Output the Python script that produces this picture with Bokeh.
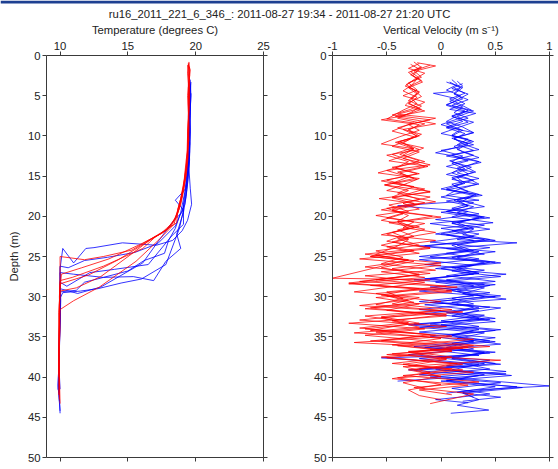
from bokeh.plotting import figure
from bokeh.layouts import column, row
from bokeh.models import Range1d, LinearAxis, FixedTicker, ColumnDataSource, Label, BoxAnnotation
from bokeh.embed import file_html
from bokeh.resources import INLINE

FONT = "Liberation Sans"
FONT_SIZE = "11.3px"
TITLE = "ru16_2011_221_6_346_: 2011-08-27 19:34 - 2011-08-27 21:20 UTC"

TEMP_TICKS = [10, 15, 20, 25]
VEL_TICKS = [-1, -0.5, 0, 0.5, 1]
VEL_TICK_LABELS = ["-1", "-0.5", "0", "0.5", "1"]
DEPTH_TICKS = [0, 5, 10, 15, 20, 25, 30, 35, 40, 45, 50]

# ---- temperature profiles: (temperature degC, depth m) ----
# red casts
RT1 = [(19.45,1.0),(19.6,1.8),(19.5,3.5),(19.45,6),(19.5,9),(19.4,12),(19.3,14.5),(19.15,16.5),(18.9,18.5),(18.6,20.0),(18.2,21.2),(17.6,22.0),(16.6,22.9),(15.3,24.2),(13.2,25.0),(11.8,25.4),(10.0,25.0),(10.0,27.5),(9.95,31),(9.95,35),(9.9,38.5),(9.95,41.0)]
RT2 = [(19.5,0.8),(19.55,2.5),(19.4,5),(19.5,8),(19.45,11),(19.35,13.5),(19.2,15.5),(19.0,17.5),(18.7,19.5),(18.3,20.8),(17.4,22.2),(15.9,23.5),(13.6,25.3),(11.6,26.4),(10.1,27.2),(10.0,29),(9.95,33),(9.9,37),(9.95,40),(10.0,43.3)]
RT3 = [(19.4,1.2),(19.5,3),(19.55,5.5),(19.45,8.5),(19.4,12),(19.3,14),(19.1,16.2),(18.85,18.2),(18.5,20.2),(17.8,21.8),(16.4,23.2),(14.3,25.4),(12.1,27.3),(10.0,28.4),(9.95,31),(9.9,35),(9.95,39),(9.9,42.2)]
RT4 = [(19.55,1.4),(19.45,4),(19.5,7),(19.4,10),(19.35,13),(19.2,15),(19.05,17),(18.8,19),(18.4,20.5),(18.0,21.5),(16.9,22.6),(15.1,24.9),(13.0,27.5),(11.2,28.9),(10.0,29.3),(9.9,32),(9.95,36),(9.9,40.0)]
RT5 = [(19.5,0.9),(19.4,2.2),(19.5,4.5),(19.45,7.5),(19.5,10.5),(19.3,13),(19.15,15.5),(18.9,17.8),(18.6,19.8),(18.4,21.0),(17.3,22.9),(15.6,25.6),(12.9,28.8),(11.0,30.5),(10.0,31.6),(9.95,34),(9.9,37),(9.95,39.5)]
RT6 = [(19.45,1.1),(19.55,3.2),(19.5,6.5),(19.4,9.5),(19.45,12.5),(19.3,15),(19.0,17.2),(18.7,19.0),(18.6,20.8),(17.0,22.6),(16.1,24.0),(13.2,26.2),(10.9,27.6),(10.0,28.0),(9.95,30),(10.0,34),(9.9,38),(9.95,42.8)]
# blue casts
BT1 = [(19.6,3.0),(19.65,5),(19.55,8),(19.6,11),(19.5,14),(19.6,16.5),(19.7,18.5),(19.4,20.5),(19.0,21.8),(18.3,23.0),(17.1,23.6),(14.6,23.3),(12.5,23.9),(11.9,24.0),(11.0,25.8),(10.2,24.0),(10.0,26.5),(10.0,30.2),(9.95,35),(9.9,40),(9.95,42.0)]
BT2 = [(19.55,3.2),(19.6,6),(19.5,9),(19.55,12),(19.45,15),(19.3,17.5),(19.1,19.5),(18.6,22.2),(18.9,24.0),(17.8,25.6),(16.9,28.0),(15.4,27.5),(13.2,27.6),(11.0,27.2),(10.0,27.0),(10.05,30.5),(9.95,36),(9.85,41.5),(9.95,42.0)]
BT3 = [(19.65,4.7),(19.6,7),(19.5,10),(19.55,13),(19.4,16),(19.2,18.5),(18.5,21.2),(17.2,23.4),(15.5,24.5),(13.5,25.1),(11.8,25.5),(10.6,26.4),(10.0,26.2),(10.0,30),(9.95,35),(9.9,40),(10.0,44.5)]
BT4 = [(19.6,3.5),(19.5,6.5),(19.6,9.5),(19.5,12.5),(19.35,15.5),(19.1,18.5),(19.1,21.0),(18.2,22.5),(16.5,26.0),(14.0,26.6),(12.2,27.0),(10.5,28.7),(10.0,28.2),(10.0,32),(9.95,37),(9.9,41),(9.95,43.0)]
BT5 = [(19.55,4.0),(19.6,7.5),(19.55,10.5),(19.45,13.5),(19.3,16.5),(18.5,18.0),(19.1,19.2),(18.8,21.5),(17.8,26.0),(16.0,27.8),(14.5,28.3),(12.8,29.0),(11.5,29.3),(10.2,29.5),(10.0,30.2),(9.95,34),(9.9,38),(9.95,40.5)]
BT6 = [(19.65,3.3),(19.55,6),(19.6,9),(19.5,12),(19.4,15),(19.25,17.5),(19.0,19.5),(18.4,20.5),(17.2,23.2),(16.1,25.8),(13.0,28.8),(11.3,29.6),(10.0,29.0),(10.0,32.5),(9.95,37),(9.85,41.0),(10.0,44.2)]
BT7 = [(19.6,3.8),(19.5,7),(19.55,11),(19.4,14),(19.2,17),(18.9,19.5),(18.5,21.5),(18.0,23.0),(17.7,24.6),(16.2,25.5),(15.0,26.8),(13.2,27.6),(11.8,28.2),(11.2,29.2),(10.0,29.4),(10.0,33),(9.9,38),(10.0,41.5)]

# ---- vertical velocity profiles: (velocity m/s, depth m) ----
RV1 = [(-0.22,0.9),(-0.05,1.3),(-0.2,1.8),(-0.28,2.4),(-0.18,3.1),(-0.3,3.9),(-0.2,4.6),(-0.27,5.4),(-0.33,6.2),(-0.15,6.9),(-0.42,7.6),(-0.2,8.1),(-0.05,8.5),(-0.35,9.2),(-0.22,10.0),(-0.4,10.8),(-0.16,11.5),(-0.3,12.3),(-0.48,13.1),(-0.12,13.8),(-0.38,14.6),(-0.22,15.4),(-0.52,16.1),(-0.1,16.9),(-0.45,17.7),(-0.25,18.4),(-0.55,19.2),(-0.08,20.0),(-0.4,20.7),(-0.3,21.5),(-0.55,22.3),(-0.05,23.0),(-0.5,23.8),(-0.2,24.6),(-0.75,25.3),(0.0,26.1),(-0.55,26.9),(-0.15,27.6),(-0.85,28.4),(0.1,29.2),(-0.5,29.9),(-0.25,30.7),(-0.7,31.5),(0.05,32.2),(-0.45,33.0),(-0.2,33.8),(-0.8,34.5),(0.3,35.3),(-0.4,36.1),(0.1,36.8),(-0.5,37.6),(0.2,38.4),(-0.3,39.1),(0.0,39.9),(-0.35,40.7),(-0.15,41.4)]
RV2 = [(-0.1,1.2),(-0.25,1.9),(-0.18,2.7),(-0.3,3.4),(-0.22,4.3),(-0.35,5.0),(-0.15,5.8),(-0.28,6.7),(-0.45,7.4),(-0.1,8.0),(-0.3,8.6),(-0.2,9.3),(-0.38,10.1),(-0.55,11.0),(-0.25,11.6),(-0.35,12.4),(-0.15,13.2),(-0.45,13.9),(-0.22,14.7),(-0.5,15.5),(-0.3,16.2),(-0.1,17.0),(-0.57,17.8),(-0.2,18.5),(-0.45,19.3),(0.0,20.1),(-0.48,20.8),(-0.15,21.6),(-0.35,22.4),(-0.5,23.1),(-0.1,23.9),(-0.7,24.7),(-0.3,25.4),(-1.0,27.7),(-0.1,27.9),(-0.65,28.6),(0.1,29.4),(-0.6,30.1),(-0.2,30.9),(-0.5,31.7),(0.05,32.4),(-0.85,33.3),(-0.15,34.0),(-0.7,34.8),(0.45,36.2),(-0.3,36.8),(0.1,37.5),(-0.45,38.3),(0.2,39.1),(-0.35,39.8),(0.35,40.6),(-0.25,41.3),(0.3,42.1),(-0.1,43.3)]
RV3 = [(-0.2,1.0),(-0.3,1.6),(-0.15,2.2),(-0.25,3.0),(-0.33,3.8),(-0.2,4.5),(-0.28,5.3),(-0.22,6.0),(-0.35,6.8),(-0.5,7.9),(-0.25,8.4),(-0.4,9.0),(-0.18,9.8),(-0.3,10.5),(-0.45,11.3),(-0.2,12.0),(-0.35,12.8),(-0.1,13.6),(-0.5,14.3),(-0.3,15.1),(-0.45,15.9),(-0.15,16.6),(-0.35,17.4),(-0.05,18.2),(-0.5,19.0),(-0.35,19.7),(-0.55,20.5),(-0.2,21.3),(-0.45,22.0),(-0.3,22.8),(-0.55,23.6),(-0.25,24.3),(-0.65,25.0),(0.0,25.8),(-0.45,26.5),(-0.2,27.3),(-0.75,28.1),(0.15,28.8),(-0.6,29.6),(-0.3,30.4),(-0.75,31.1),(0.2,31.9),(-0.55,32.6),(-0.3,33.4),(-0.65,34.2),(0.1,34.9),(-0.8,35.7),(0.2,36.4),(-0.5,37.2),(0.55,37.9),(-0.35,38.7),(-0.1,39.4),(-0.45,40.2),(0.25,41.0),(-0.2,41.6),(0.1,42.2)]
RV4 = [(-0.18,1.4),(-0.28,2.0),(-0.2,2.8),(-0.32,3.6),(-0.25,4.3),(-0.18,5.1),(-0.3,5.9),(-0.2,6.6),(-0.4,7.3),(-0.05,7.8),(-0.3,8.6),(-0.45,9.4),(-0.25,10.1),(-0.35,10.9),(-0.2,11.7),(-0.5,12.4),(-0.3,13.2),(-0.42,14.0),(-0.2,14.7),(-0.55,15.6),(-0.25,16.3),(-0.4,17.1),(-0.2,17.9),(-0.48,18.6),(-0.3,19.4),(-0.5,20.2),(-0.15,20.9),(-0.4,21.7),(-0.25,22.5),(-0.45,23.2),(-0.1,24.0),(-0.6,24.8),(-0.3,25.5),(-0.7,26.3),(-0.1,27.1),(-0.85,28.3),(-0.2,29.0),(-0.55,29.8),(0.0,30.6),(-0.65,31.4),(-0.15,32.1),(-0.75,32.9),(0.05,33.7),(-0.6,34.4),(0.0,35.2),(-0.45,36.0),(0.1,36.7),(-0.55,37.5),(0.15,38.3),(-0.25,39.1),(0.0,40.0)]
RV5 = [(-0.25,0.8),(-0.18,1.5),(-0.3,2.1),(-0.22,2.9),(-0.27,3.7),(-0.35,4.4),(-0.22,5.2),(-0.3,6.0),(-0.18,6.7),(-0.35,7.5),(-0.55,8.0),(-0.2,8.6),(-0.3,9.3),(-0.22,10.1),(-0.42,10.8),(-0.25,11.6),(-0.38,12.3),(-0.2,13.1),(-0.4,13.9),(-0.58,14.6),(-0.2,15.3),(-0.35,16.1),(-0.5,16.8),(-0.1,17.6),(-0.35,18.4),(-0.2,19.1),(-0.6,19.9),(-0.25,20.7),(-0.35,21.4),(-0.05,22.0),(-0.4,22.8),(-0.2,23.6),(-0.6,24.3),(-0.35,25.1),(-0.55,25.9),(-0.05,26.7),(-0.7,27.4),(-0.15,28.2),(-0.8,29.4),(-0.2,30.1),(-0.45,30.9),(0.1,31.6),(-0.7,32.4),(-0.3,33.2),(-0.75,33.9),(-0.1,34.7),(-0.55,35.5),(0.3,36.1),(-0.3,36.9),(0.05,37.7),(-0.35,38.4),(0.1,39.0),(-0.15,39.5)]
RV6 = [(-0.28,1.1),(-0.2,1.7),(-0.26,2.5),(-0.17,3.3),(-0.3,4.0),(-0.22,4.8),(-0.3,5.6),(-0.18,6.3),(-0.28,7.1),(-0.4,7.8),(-0.15,8.5),(-0.3,9.2),(-0.2,10.0),(-0.38,10.7),(-0.26,11.5),(-0.45,12.3),(-0.3,13.0),(-0.15,13.8),(-0.4,14.5),(-0.25,15.3),(-0.52,16.1),(-0.3,16.8),(-0.45,17.6),(-0.15,18.3),(-0.45,19.1),(-0.3,19.9),(-0.4,20.6),(-0.25,21.4),(-0.5,22.2),(-0.3,22.9),(-0.4,23.7),(-0.65,25.0),(-0.25,25.6),(-0.55,26.4),(-0.2,27.2),(-0.6,27.9),(0.05,28.7),(-0.5,29.4),(-0.35,30.2),(-0.6,31.0),(0.0,31.7),(-0.55,32.5),(-0.2,33.3),(-0.7,34.0),(-0.05,34.8),(-0.65,35.5),(0.25,36.3),(-0.45,37.1),(0.05,37.8),(-0.3,38.6),(0.3,39.4),(-0.4,40.1),(0.0,40.9),(-0.3,41.6),(-0.2,42.3),(0.0,42.8)]
BV1 = [(0.1,3.0),(0.15,3.6),(0.05,4.3),(0.18,5.0),(0.08,5.7),(0.2,6.4),(0.12,7.1),(0.25,7.8),(0.05,8.5),(0.18,9.2),(0.1,9.9),(0.28,10.6),(0.12,11.3),(0.2,12.0),(0.35,12.7),(0.1,13.4),(0.22,14.1),(0.05,14.8),(0.3,15.5),(0.12,16.2),(0.25,16.9),(0.0,17.6),(0.3,18.3),(0.1,19.0),(0.35,19.7),(-0.05,20.4),(0.4,21.1),(0.1,21.8),(0.3,22.5),(-0.1,23.2),(0.45,23.9),(0.05,24.6),(0.35,25.3),(-0.15,26.0),(0.4,26.7),(0.05,27.4),(0.5,28.1),(-0.1,28.8),(0.45,29.5),(0.1,30.2),(0.3,30.9),(-0.2,31.6),(0.4,32.3),(0.0,33.0),(0.35,33.7),(-0.2,34.4),(0.5,35.1),(0.1,35.8),(0.3,36.5),(-0.3,37.2),(0.45,37.9),(0.05,38.6),(0.6,39.3),(-0.1,40.0),(0.55,40.7),(0.1,41.4),(0.45,42.1),(-0.05,42.8),(0.25,43.2)]
BV2 = [(0.15,3.2),(0.2,3.8),(0.1,4.5),(-0.07,4.7),(0.12,5.3),(0.22,6.0),(0.08,6.7),(0.32,7.2),(0.15,7.9),(0.0,8.6),(0.2,9.3),(0.1,10.0),(0.3,10.7),(0.15,11.4),(-0.05,12.1),(0.25,12.8),(0.37,13.3),(0.15,14.0),(0.25,14.7),(0.1,15.4),(0.33,16.0),(0.15,16.7),(0.05,17.4),(0.35,18.0),(-0.4,18.7),(0.25,19.4),(0.1,20.1),(0.48,20.8),(0.0,21.5),(0.35,22.2),(0.15,22.9),(0.7,23.3),(0.05,24.0),(0.4,24.7),(-0.2,25.4),(0.3,26.1),(0.1,26.8),(0.55,27.5),(-0.05,28.2),(0.4,28.9),(0.2,29.6),(0.6,30.3),(-0.15,31.0),(0.35,31.7),(0.1,32.4),(0.5,33.1),(-0.2,33.8),(0.4,34.5),(0.15,35.2),(0.55,35.9),(-0.1,36.6),(0.35,37.3),(-0.55,37.6),(0.2,38.3),(0.45,39.0),(-0.2,39.7),(1.0,41.1),(0.3,41.6),(0.05,42.0)]
BV3 = [(0.05,3.3),(0.2,4.0),(0.12,4.8),(0.25,5.5),(0.1,6.2),(0.3,6.9),(0.15,7.6),(0.25,8.3),(0.05,9.0),(0.22,9.7),(0.12,10.4),(0.3,11.1),(0.0,11.8),(0.2,12.5),(0.1,13.2),(0.28,13.9),(0.15,14.6),(0.35,15.3),(0.1,16.0),(0.2,16.7),(0.38,17.4),(0.05,18.1),(0.3,18.8),(0.15,19.5),(0.45,20.2),(-0.1,20.9),(0.3,21.6),(0.2,22.3),(0.5,23.0),(-0.2,23.7),(0.35,24.4),(0.15,25.1),(0.55,25.8),(0.0,26.5),(0.3,27.2),(-0.25,27.9),(0.45,28.6),(0.15,29.3),(0.4,30.0),(-0.1,30.7),(0.55,31.4),(0.2,32.1),(0.4,32.8),(-0.3,33.5),(0.3,34.2),(0.05,34.9),(0.5,35.6),(-0.15,36.3),(0.4,37.0),(0.1,37.7),(0.55,38.4),(-0.3,39.1),(0.35,39.8),(0.05,40.5),(0.7,41.2),(0.2,41.9),(0.3,42.5)]
BV4 = [(0.2,3.5),(0.1,4.1),(0.25,4.8),(0.15,5.5),(0.05,6.2),(0.22,6.9),(0.1,7.6),(0.3,8.3),(0.15,9.0),(0.0,9.7),(0.25,10.4),(0.15,11.1),(0.3,11.8),(0.05,12.5),(0.35,13.2),(0.2,13.9),(0.1,14.6),(0.25,15.3),(0.35,16.0),(0.05,16.7),(0.3,17.4),(0.2,18.1),(0.4,18.8),(0.0,19.5),(0.35,20.2),(0.1,20.9),(0.45,21.6),(0.05,22.3),(0.3,23.0),(-0.15,23.7),(0.5,24.4),(0.1,25.1),(0.4,25.8),(-0.05,26.5),(0.6,27.2),(0.05,27.9),(0.3,28.6),(-0.2,29.3),(0.5,30.0),(0.1,30.7),(0.35,31.4),(-0.15,32.1),(0.45,32.8),(0.0,33.5),(0.5,34.2),(-0.1,34.9),(0.3,35.6),(0.05,36.3),(0.45,37.0),(-0.2,37.7),(0.35,38.4),(0.1,39.1),(0.65,39.8),(0.0,40.5),(0.5,41.2),(0.15,41.9),(0.55,42.5),(0.2,43.0)]
BV5 = [(0.12,4.0),(0.22,4.7),(0.08,5.4),(0.18,6.1),(0.28,6.8),(0.1,7.5),(0.2,8.2),(0.05,8.9),(0.3,9.6),(0.12,10.3),(0.2,11.0),(0.35,11.7),(0.1,12.4),(0.25,13.1),(0.05,13.8),(0.3,14.5),(0.15,15.2),(0.22,15.9),(0.05,16.6),(0.32,17.3),(0.12,18.0),(0.25,18.7),(0.05,19.4),(0.4,20.1),(0.1,20.8),(0.25,21.5),(-0.05,22.2),(0.45,22.9),(0.15,23.6),(0.3,24.3),(-0.1,25.0),(0.5,25.7),(0.1,26.4),(0.35,27.1),(-0.15,27.8),(0.4,28.5),(0.05,29.2),(0.55,29.9),(-0.05,30.6),(0.3,31.3),(0.1,32.0),(0.5,32.7),(-0.25,33.4),(0.35,34.1),(0.1,34.8),(0.45,35.5),(-0.1,36.2),(0.5,36.9),(0.0,37.6),(0.4,38.3),(-0.2,39.0),(0.6,39.6),(-0.4,40.5)]
BV6 = [(0.08,3.3),(0.18,4.0),(0.12,4.7),(0.2,5.4),(0.05,6.1),(0.25,6.8),(0.15,7.5),(0.05,8.2),(0.2,8.9),(0.3,9.6),(0.1,10.3),(0.25,11.0),(0.15,11.7),(0.3,12.4),(0.08,13.1),(0.22,13.8),(0.32,14.5),(0.1,15.2),(0.2,15.9),(0.0,16.6),(0.35,17.3),(0.15,18.0),(0.25,18.7),(0.05,19.4),(0.38,20.1),(0.15,20.8),(0.3,21.5),(0.0,22.2),(0.4,22.9),(0.1,23.6),(0.25,24.3),(-0.2,25.0),(0.45,25.7),(0.15,26.4),(0.35,27.1),(-0.1,27.8),(0.5,28.5),(0.1,29.2),(0.3,29.9),(-0.2,30.6),(0.45,31.3),(0.05,32.0),(0.35,32.7),(-0.1,33.4),(0.55,34.1),(0.1,34.8),(0.3,35.5),(-0.25,36.2),(0.4,36.9),(0.1,37.6),(0.5,38.3),(-0.05,39.0),(0.4,39.7),(0.05,40.4),(0.75,41.3),(0.2,42.0),(0.35,42.8),(0.15,43.5),(0.44,44.1),(0.09,44.5)]

RED_TEMP = [RT1, RT2, RT3, RT4, RT5, RT6]
BLUE_TEMP = [BT1, BT2, BT3, BT4, BT5, BT6, BT7]
RED_VEL = [RV1, RV2, RV3, RV4, RV5, RV6]
BLUE_VEL = [BV1, BV2, BV3, BV4, BV5, BV6]

RED = "#ff0000"
BLUE = "#0000ff"
AXIS_COLOR = "#3a3a3a"
TEXT_COLOR = "#222222"


def profile_source(profiles):
    return ColumnDataSource(dict(
        xs=[[v for v, d in prof] for prof in profiles],
        ys=[[d for v, d in prof] for prof in profiles],
    ))


def style_axis(ax, ticks, show_labels=True):
    ax.ticker = FixedTicker(ticks=ticks)
    ax.axis_line_color = AXIS_COLOR
    ax.major_tick_line_color = AXIS_COLOR
    ax.major_tick_in = 0
    ax.major_tick_out = 4
    ax.minor_tick_line_color = None
    ax.major_label_text_font = FONT
    if show_labels:
        ax.major_label_text_font_size = FONT_SIZE
        ax.major_label_text_color = TEXT_COLOR
        ax.major_label_standoff = 2
    else:
        # tick marks only, no tick text at all
        ax.major_label_text_font_size = "0px"
        ax.major_label_text_color = None
        ax.major_label_standoff = 0
    ax.axis_label_text_font = FONT
    ax.axis_label_text_font_size = FONT_SIZE
    ax.axis_label_text_font_style = "normal"
    ax.axis_label_text_color = TEXT_COLOR


def make_panel(width, x_range, x_ticks, x_label, border_left, border_right, y_label=None):
    p = figure(width=width, height=449, x_range=x_range, y_range=Range1d(50, 0),
               x_axis_location="above", toolbar_location=None, output_backend="svg",
               min_border_left=border_left, min_border_right=border_right,
               min_border_top=34, min_border_bottom=12)
    p.background_fill_color = "white"
    p.border_fill_color = "white"
    p.outline_line_color = None
    p.xgrid.visible = False
    p.ygrid.visible = False
    p.add_layout(LinearAxis(), "below")
    p.add_layout(LinearAxis(), "right")
    top_ax = p.above[0]
    style_axis(top_ax, x_ticks)
    top_ax.axis_label = x_label
    top_ax.axis_label_standoff = 3
    style_axis(p.below[0], x_ticks, show_labels=False)
    left_ax = p.left[0]
    style_axis(left_ax, DEPTH_TICKS)
    if y_label:
        left_ax.axis_label = y_label
        left_ax.axis_label_standoff = 5
    style_axis(p.right[0], DEPTH_TICKS, show_labels=False)
    return p


# temperature panel
p_temp = make_panel(279, Range1d(9, 25), TEMP_TICKS, "Temperature (degrees C)", 46, 16, "Depth (m)")
p_temp.multi_line("xs", "ys", source=profile_source(BLUE_TEMP), line_color=BLUE, line_alpha=0.8, line_width=1)
p_temp.multi_line("xs", "ys", source=profile_source(RED_TEMP), line_color=RED, line_alpha=0.8, line_width=1)

# vertical velocity panel
p_vel = make_panel(279, Range1d(-1, 1), VEL_TICKS, "Vertical Velocity (m s\u207b\u00b9)", 53, 9)
p_vel.above[0].major_label_overrides = {t: s for t, s in zip(VEL_TICKS, VEL_TICK_LABELS)}
p_vel.multi_line("xs", "ys", source=profile_source(BLUE_VEL), line_color=BLUE, line_alpha=0.75, line_width=1)
p_vel.multi_line("xs", "ys", source=profile_source(RED_VEL), line_color=RED, line_alpha=0.75, line_width=1)

# header strip with the deployment title
head = figure(width=558, height=20, x_range=Range1d(0, 1), y_range=Range1d(0, 1),
              toolbar_location=None, output_backend="svg",
              x_axis_location=None, y_axis_location=None, min_border=0)
head.outline_line_color = None
head.xgrid.visible = False
head.ygrid.visible = False
head.add_layout(BoxAnnotation(bottom=0.85, fill_color="#1d3f91", fill_alpha=1.0, line_color=None))
head.add_layout(Label(x=279, y=7, x_units="screen", y_units="screen", text=TITLE,
                      text_align="center", text_baseline="middle",
                      text_font=FONT, text_font_size=FONT_SIZE, text_color=TEXT_COLOR))

layout = column(head, row(p_temp, p_vel, spacing=0), spacing=0)
open("out.html", "w").write(file_html(layout, INLINE))
